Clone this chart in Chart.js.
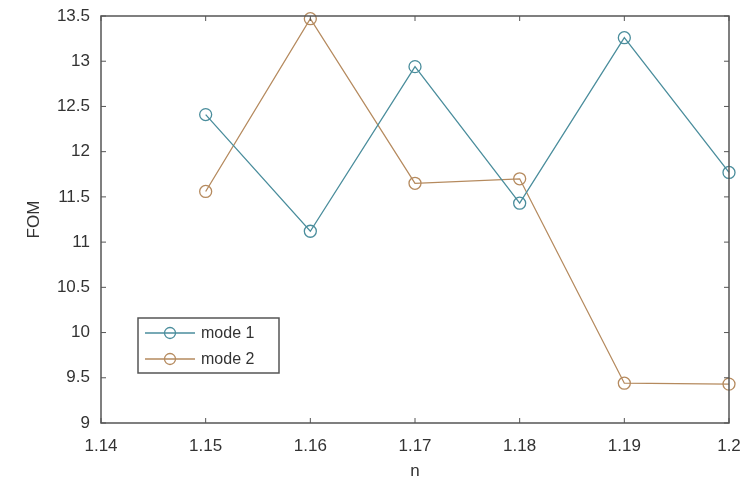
<!DOCTYPE html>
<html>
<head>
<meta charset="utf-8">
<script src="https://cdn.jsdelivr.net/npm/chart.js@4.4.0/dist/chart.umd.min.js"></script>
<style>
  html, body { margin: 0; padding: 0; background: #fff; }
  #wrap { width: 741px; height: 486px; }
</style>
</head>
<body>
<div id="wrap"><canvas id="chart" width="741" height="486"></canvas></div>
<script>
// values
const nValues = [1.15, 1.16, 1.17, 1.18, 1.19, 1.2];
const mode1 = [12.41, 11.12, 12.94, 11.43, 13.26, 11.77];
const mode2 = [11.56, 13.47, 11.65, 11.70, 9.44, 9.43];
const xTicks = [1.14, 1.15, 1.16, 1.17, 1.18, 1.19, 1.2];
const yTicks = [9, 9.5, 10, 10.5, 11, 11.5, 12, 12.5, 13, 13.5];
const seriesNames = ['mode 1', 'mode 2'];
const seriesColors = ['#4a8d9c', '#b58a5e'];

const axisColor = '#555';
const textColor = '#333';
const fontFamily = 'Liberation Sans, Arial, sans-serif';

function toPoints(xs, ys) {
    return xs.map((x, i) => ({ x: x, y: ys[i] }));
}

// box around plot + ticks pointing inward (matlab style)
const boxPlugin = {
    id: 'box',
    afterDraw(chart) {
        const ctx = chart.ctx;
        const a = chart.chartArea;
        const xs = chart.scales.x, ys = chart.scales.y;
        ctx.save();
        ctx.strokeStyle = axisColor;
        ctx.lineWidth = 1.5;
        ctx.strokeRect(a.left, a.top, a.right - a.left, a.bottom - a.top);
        ctx.lineWidth = 1;
        const t = 5;
        xTicks.forEach(v => {
            const px = xs.getPixelForValue(v);
            ctx.beginPath();
            ctx.moveTo(px, a.bottom); ctx.lineTo(px, a.bottom - t);
            ctx.moveTo(px, a.top); ctx.lineTo(px, a.top + t);
            ctx.stroke();
        });
        yTicks.forEach(v => {
            const py = ys.getPixelForValue(v);
            ctx.beginPath();
            ctx.moveTo(a.left, py); ctx.lineTo(a.left + t, py);
            ctx.moveTo(a.right, py); ctx.lineTo(a.right - t, py);
            ctx.stroke();
        });

        // legend box inside the plot
        const lx = 138, ly = 318, lw = 141, lh = 55;
        ctx.fillStyle = '#fff';
        ctx.fillRect(lx, ly, lw, lh);
        ctx.strokeStyle = axisColor;
        ctx.lineWidth = 1.5;
        ctx.strokeRect(lx, ly, lw, lh);
        ctx.font = '16px ' + fontFamily;
        ctx.textBaseline = 'middle';
        seriesNames.forEach((name, i) => {
            const cy = ly + 15 + i * 26;
            ctx.strokeStyle = seriesColors[i];
            ctx.lineWidth = 1.3;
            ctx.beginPath();
            ctx.moveTo(lx + 7, cy); ctx.lineTo(lx + 57, cy);
            ctx.stroke();
            ctx.beginPath();
            ctx.arc(lx + 32, cy, 5.5, 0, Math.PI * 2);
            ctx.stroke();
            ctx.fillStyle = textColor;
            ctx.fillText(name, lx + 63, cy + 1);
        });
        ctx.restore();
    }
};

new Chart(document.getElementById('chart'), {
    type: 'line',
    data: {
        datasets: seriesNames.map((name, i) => ({
            label: name,
            data: toPoints(nValues, i === 0 ? mode1 : mode2),
            borderColor: seriesColors[i],
            backgroundColor: 'rgba(255,255,255,0)',
            borderWidth: 1.3,
            pointRadius: 6,
            pointBorderWidth: 1.3,
            pointBackgroundColor: 'rgba(255,255,255,0)',
            pointBorderColor: seriesColors[i],
            tension: 0,
            clip: false
        }))
    },
    options: {
        responsive: false,
        animation: false,
        layout: { padding: { top: 16, right: 12, left: 0, bottom: 0 } },
        plugins: {
            legend: { display: false },
            tooltip: { enabled: false }
        },
        scales: {
            x: {
                type: 'linear',
                min: 1.14,
                max: 1.2,
                afterBuildTicks: s => { s.ticks = xTicks.map(v => ({ value: v })); },
                afterFit: s => { s.height = 63; s.paddingLeft = 0; s.paddingRight = 0; },
                grid: { display: false },
                border: { display: false },
                ticks: {
                    color: textColor,
                    font: { family: fontFamily, size: 17 },
                    padding: 5,
                    maxRotation: 0,
                    callback: v => String(Math.round(v * 100) / 100)
                },
                title: {
                    display: true,
                    text: 'n',
                    color: textColor,
                    font: { family: fontFamily, size: 17 },
                    padding: { top: 7 }
                }
            },
            y: {
                min: 9,
                max: 13.5,
                afterBuildTicks: s => { s.ticks = yTicks.map(v => ({ value: v })); },
                afterFit: s => { s.width = 101; s.paddingTop = 0; s.paddingBottom = 0; },
                grid: { display: false },
                border: { display: false },
                ticks: {
                    color: textColor,
                    font: { family: fontFamily, size: 17 },
                    padding: 3,
                    callback: v => String(v)
                },
                title: {
                    display: true,
                    text: 'FOM',
                    color: textColor,
                    font: { family: fontFamily, size: 17 },
                    padding: { top: 24, bottom: 0 }
                }
            }
        }
    },
    plugins: [boxPlugin]
});
</script>
</body>
</html>
